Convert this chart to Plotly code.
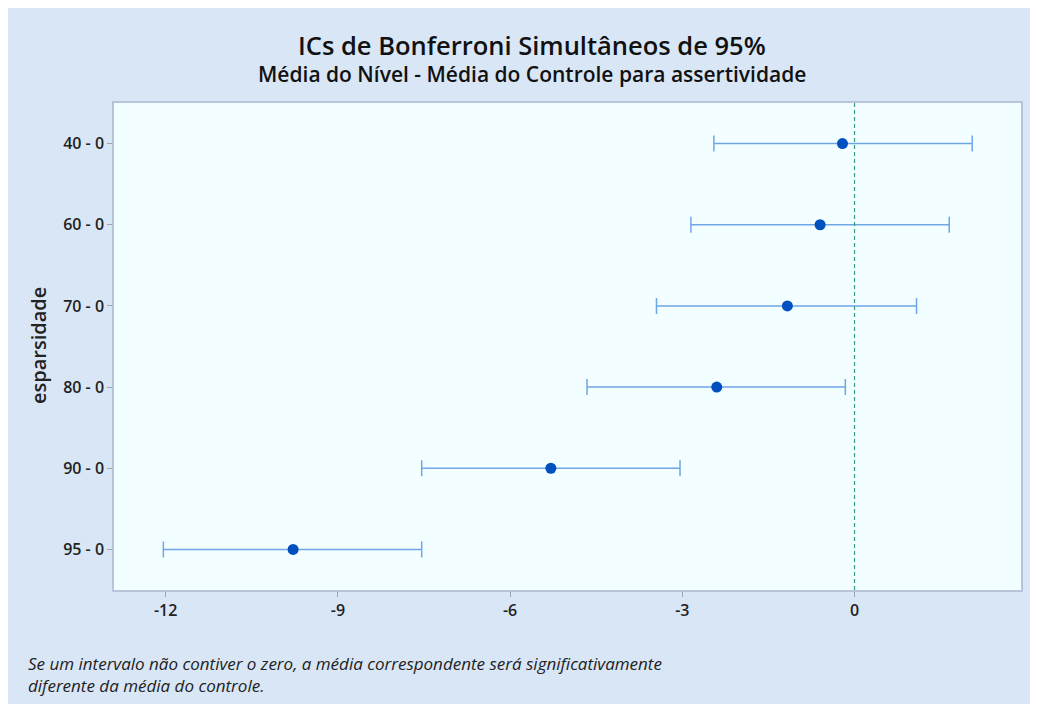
import plotly.graph_objects as go

categories = ["40 - 0", "60 - 0", "70 - 0", "80 - 0", "90 - 0", "95 - 0"]
estimates = [-0.21, -0.60, -1.17, -2.40, -5.29, -9.78]
lower = [-2.45, -2.85, -3.45, -4.66, -7.54, -12.04]
upper = [2.05, 1.65, 1.08, -0.16, -3.04, -7.54]
x_ticks = [-12, -9, -6, -3, 0]

plus = [u - e for u, e in zip(upper, estimates)]
minus = [e - l for e, l in zip(estimates, lower)]

OFF = 8  # page body margin
W, H = 1038 - OFF, 704 - OFF
L, T = 114 - OFF, 103 - OFF
pw, ph = 907, 487
R, B = W - L - pw, H - T - ph

def px(x):
    return (x - OFF - L) / pw

def py(y):
    return (T + ph - (y - OFF)) / ph

fig = go.Figure()
fig.add_trace(go.Scatter(
    x=estimates, y=categories, mode="markers",
    marker=dict(color="#0050BF", size=11),
    error_x=dict(type="data", symmetric=False, array=plus, arrayminus=minus,
                 color="#6FA6E8", thickness=1.5, width=8),
    hoverinfo="x+y", showlegend=False,
))

fig.add_shape(type="line", x0=0, x1=0, xref="x", y0=0, y1=1, yref="paper",
              line=dict(color="#3A9E73", width=1.2, dash="4px,3px"))

font_main = "Open Sans, Noto Sans, DejaVu Sans, sans-serif"
tickfont = dict(size=16, color="#222222", family=font_main, weight=600)

fig.update_layout(
    width=W, height=H,
    margin=dict(l=L, r=R, t=T, b=B),
    paper_bgcolor="#D9E6F6",
    plot_bgcolor="#F2FEFF",
    font=dict(family=font_main, color="#222222"),
    xaxis=dict(range=[-12.9, 2.9], tickvals=x_ticks, ticktext=[str(v) for v in x_ticks],
               showgrid=False, zeroline=False, showline=True, mirror=True,
               linecolor="#B7C4DA", linewidth=1.5, ticks="outside", ticklen=5,
               tickcolor="#9AA6B8", tickfont=tickfont),
    yaxis=dict(categoryorder="array", categoryarray=categories, autorange=False,
               range=[5.5, -0.5], showgrid=False, zeroline=False, showline=True,
               mirror=True, linecolor="#B7C4DA", linewidth=1.5, ticks="outside",
               ticklen=5, tickcolor="#9AA6B8", tickfont=tickfont),
    annotations=[
        dict(text="ICs de Bonferroni Simultâneos de 95%", x=px(532), y=py(45),
             xref="paper", yref="paper", xanchor="center", yanchor="middle",
             showarrow=False, font=dict(size=25.5, color="#111111", weight=600)),
        dict(text="Média do Nível - Média do Controle para assertividade", x=px(532), y=py(74),
             xref="paper", yref="paper", xanchor="center", yanchor="middle",
             showarrow=False, font=dict(size=21, color="#111111", weight=600)),
        dict(text="esparsidade", x=px(38), y=py(346), textangle=-90,
             xref="paper", yref="paper", xanchor="center", yanchor="middle",
             showarrow=False, font=dict(size=20, color="#222222", weight=600)),
        dict(text="<i>Se um intervalo não contiver o zero, a média correspondente será significativamente<br>diferente da média do controle.</i>",
             x=px(26), y=py(650), xref="paper", yref="paper", xanchor="left", yanchor="top",
             align="left", showarrow=False, font=dict(size=17, color="#222222")),
    ],
)

fig.write_html("out.html")
